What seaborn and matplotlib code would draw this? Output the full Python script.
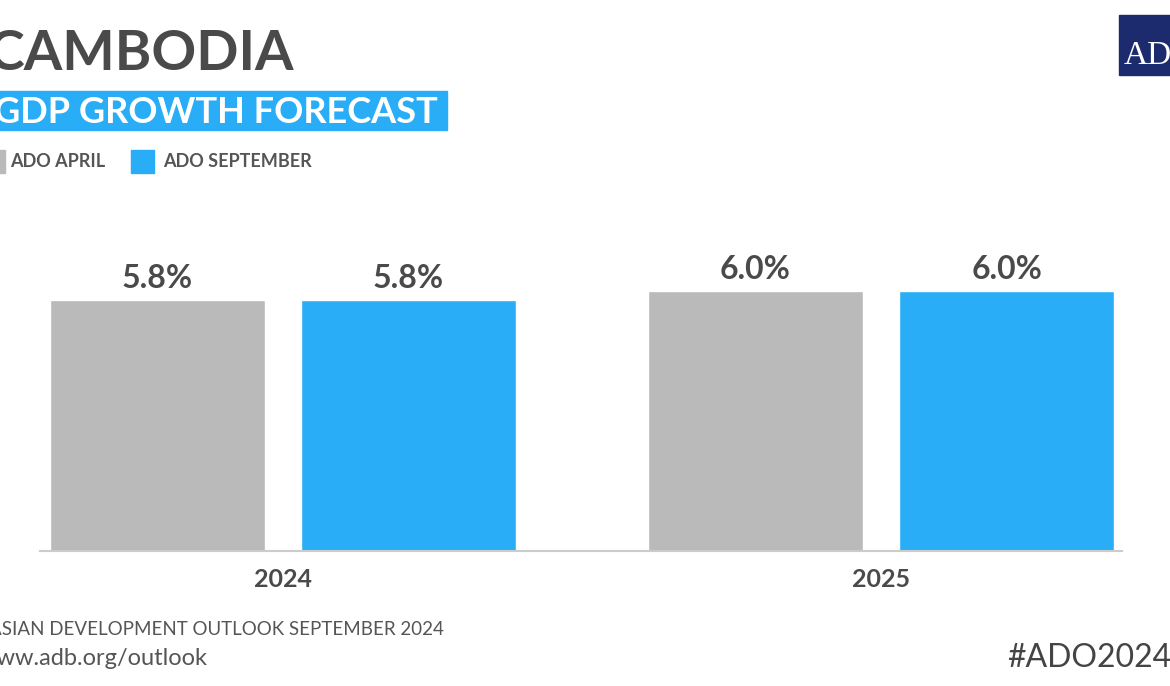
import numpy as np
import pandas as pd
import matplotlib.pyplot as plt
import seaborn as sns
from matplotlib.patches import Rectangle

# data
years = ['2024', '2025']
editions = ['ADO APRIL', 'ADO SEPTEMBER']
ado_april = [5.8, 6.0]
ado_september = [5.8, 6.0]

gray = '#BABABA'
blue = '#2AADF7'
dark = '#4A4A4A'

df = pd.DataFrame({
    'year': years * 2,
    'edition': [editions[0]] * 2 + [editions[1]] * 2,
    'value': ado_april + ado_september,
})

sns.set_style('white')
plt.rcParams['font.family'] = ['Lato', 'DejaVu Sans']

W, H = 1170, 686
fig = plt.figure(figsize=(W / 100, H / 100), dpi=100)

def px(x, y):
    # pixel position (from top left) -> figure fraction
    return x / W, 1 - y / H

ax = fig.add_axes([40 / W, 135 / H, 1082 / W, 351 / H])
sns.barplot(data=df, x='year', y='value', hue='edition', palette=[gray, blue],
            width=0.84, gap=0.143, saturation=1, legend=False, ax=ax)
ax.set_xlim(-0.406, 1.403)
ax.set_ylim(0, 351 / 43.3)

for cont in ax.containers:
    ax.bar_label(cont, labels=[f'{v:.1f}%' for v in cont.datavalues], padding=5,
                 fontsize=23, fontweight='bold', color=dark)

ax.set_xlabel('')
ax.set_ylabel('')
ax.set_yticks([])
ax.tick_params(axis='x', length=0, pad=12, labelsize=18, labelcolor=dark)
for lab in ax.get_xticklabels():
    lab.set_fontweight('bold')
for s in ['top', 'left', 'right']:
    ax.spines[s].set_visible(False)
ax.spines['bottom'].set_color('#CCCCCC')
ax.spines['bottom'].set_linewidth(1.5)

# title block
fig.text(*px(294, 70), 'CAMBODIA', ha='right', va='baseline', fontsize=40,
         fontweight='bold', color=dark)
fig.patches.append(Rectangle(px(-10, 130), 457 / W, 39 / H, transform=fig.transFigure,
                             color=blue, zorder=0))
fig.text(*px(438, 123), 'GDP GROWTH FORECAST', ha='right', va='baseline', fontsize=26,
         fontweight='bold', color='white')

# legend
for x0, c in [(-18, gray), (131, blue)]:
    fig.patches.append(Rectangle(px(x0, 173), 23 / W, 23 / H, transform=fig.transFigure,
                                 color=c))
fig.text(*px(10, 167), editions[0], ha='left', va='baseline', fontsize=13,
         fontweight='bold', color='#555555')
fig.text(*px(163, 167), editions[1], ha='left', va='baseline', fontsize=13,
         fontweight='bold', color='#555555')

# footer
fig.text(*px(444, 635), 'ASIAN DEVELOPMENT OUTLOOK SEPTEMBER 2024', ha='right',
         va='baseline', fontsize=13.5, color='#555555')
fig.text(*px(208, 665), 'www.adb.org/outlook', ha='right', va='baseline',
         fontsize=17, color='#555555')
fig.text(*px(1007, 667), '#ADO2024', ha='left', va='baseline', fontsize=23,
         color='#444444')

# ADB logo
fig.patches.append(Rectangle(px(1119, 75), 60 / W, 60 / H, transform=fig.transFigure,
                             color='#1C2A6E'))
fig.text(*px(1124, 64), 'ADB', ha='left', va='baseline', fontsize=24,
         family='Liberation Serif', color='white')

fig.savefig('out.png', dpi=100)
